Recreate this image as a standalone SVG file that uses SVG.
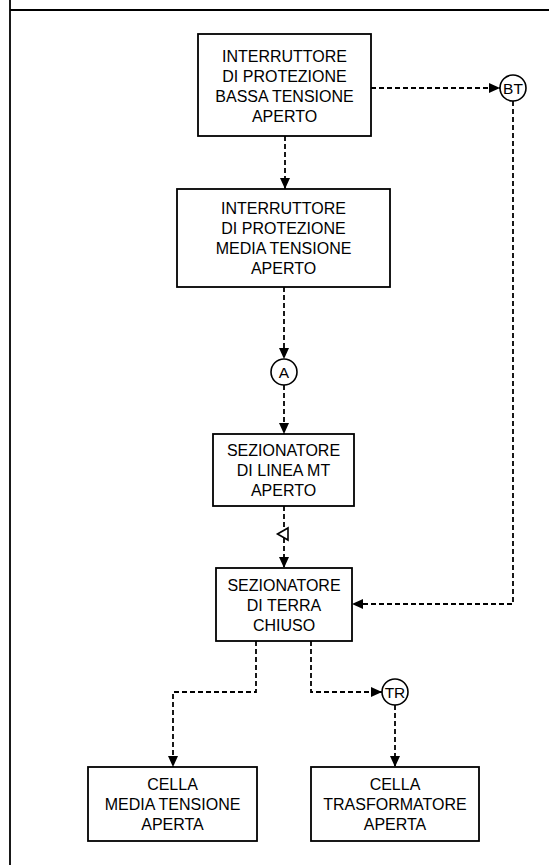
<svg xmlns="http://www.w3.org/2000/svg" width="549" height="865" viewBox="0 0 549 865">
<style>
.box{fill:#fff;stroke:#000;stroke-width:1.8}
.t{font-family:"Liberation Sans",Arial,sans-serif;font-size:16px;fill:#000;text-anchor:middle}
.ct{font-family:"Liberation Sans",Arial,sans-serif;font-size:15.5px;fill:#000;text-anchor:middle}
.c{fill:#fff;stroke:#000;stroke-width:1.6}
.e{fill:none;stroke:#000;stroke-width:1.8;stroke-dasharray:5,3}
.frame{fill:none;stroke:#000;stroke-width:1.8}
</style>
<defs>
<marker id="ah" markerUnits="userSpaceOnUse" markerWidth="11" markerHeight="10" refX="11" refY="5" orient="auto">
<path d="M0,0 L11,5 L0,10 z" fill="#000" stroke="none"/>
</marker>
</defs>
<rect width="549" height="865" fill="#fff"/>
<g id="frame">
<path class="frame" d="M10,0 V865 M10,10 H549"/>
</g>
<g id="connectors">
<path class="e" d="M285,136 V189" marker-end="url(#ah)"/>
<path class="e" d="M371,88 H500" marker-end="url(#ah)"/>
<path class="e" d="M513,101 V604 H352" marker-end="url(#ah)"/>
<path class="e" d="M284,287 V359" marker-end="url(#ah)"/>
<path class="e" d="M284,385 V434" marker-end="url(#ah)"/>
<path class="e" d="M284,506 V568" marker-end="url(#ah)"/>
<polygon points="277.5,534 288,528 288,540" fill="#fff" stroke="#000" stroke-width="1.6"/>
<path class="e" d="M256,641 V692 H173 V767" marker-end="url(#ah)"/>
<path class="e" d="M311,641 V692 H382" marker-end="url(#ah)"/>
<path class="e" d="M395,705 V767" marker-end="url(#ah)"/>
</g>
<g id="n1">
<rect class="box" x="198" y="34" width="173" height="102"/>
<text class="t" x="284.5" y="62">INTERRUTTORE</text>
<text class="t" x="284.5" y="82">DI PROTEZIONE</text>
<text class="t" x="284.5" y="102">BASSA TENSIONE</text>
<text class="t" x="284.5" y="122">APERTO</text>
</g>
<g id="n2">
<rect class="box" x="177" y="189" width="213" height="98"/>
<text class="t" x="283.5" y="214">INTERRUTTORE</text>
<text class="t" x="283.5" y="234">DI PROTEZIONE</text>
<text class="t" x="283.5" y="254">MEDIA TENSIONE</text>
<text class="t" x="283.5" y="274">APERTO</text>
</g>
<g id="n3">
<rect class="box" x="213" y="434" width="141" height="72"/>
<text class="t" x="283.5" y="456">SEZIONATORE</text>
<text class="t" x="283.5" y="476">DI LINEA MT</text>
<text class="t" x="283.5" y="496">APERTO</text>
</g>
<g id="n4">
<rect class="box" x="216" y="568" width="136" height="73"/>
<text class="t" x="284" y="591">SEZIONATORE</text>
<text class="t" x="284" y="611">DI TERRA</text>
<text class="t" x="284" y="631">CHIUSO</text>
</g>
<g id="n5">
<rect class="box" x="88" y="767" width="169" height="74"/>
<text class="t" x="172.5" y="790">CELLA</text>
<text class="t" x="172.5" y="810">MEDIA TENSIONE</text>
<text class="t" x="172.5" y="830">APERTA</text>
</g>
<g id="n6">
<rect class="box" x="311" y="767" width="168" height="74"/>
<text class="t" x="395" y="790">CELLA</text>
<text class="t" x="395" y="810">TRASFORMATORE</text>
<text class="t" x="395" y="830">APERTA</text>
</g>
<g id="bt">
<circle class="c" cx="513" cy="88" r="13"/>
<text class="ct" x="513" y="93.5">BT</text>
</g>
<g id="a">
<circle class="c" cx="284" cy="372" r="13"/>
<text class="ct" x="284" y="377.5">A</text>
</g>
<g id="tr">
<circle class="c" cx="395" cy="692" r="13"/>
<text class="ct" x="395" y="697.5">TR</text>
</g>
</svg>
